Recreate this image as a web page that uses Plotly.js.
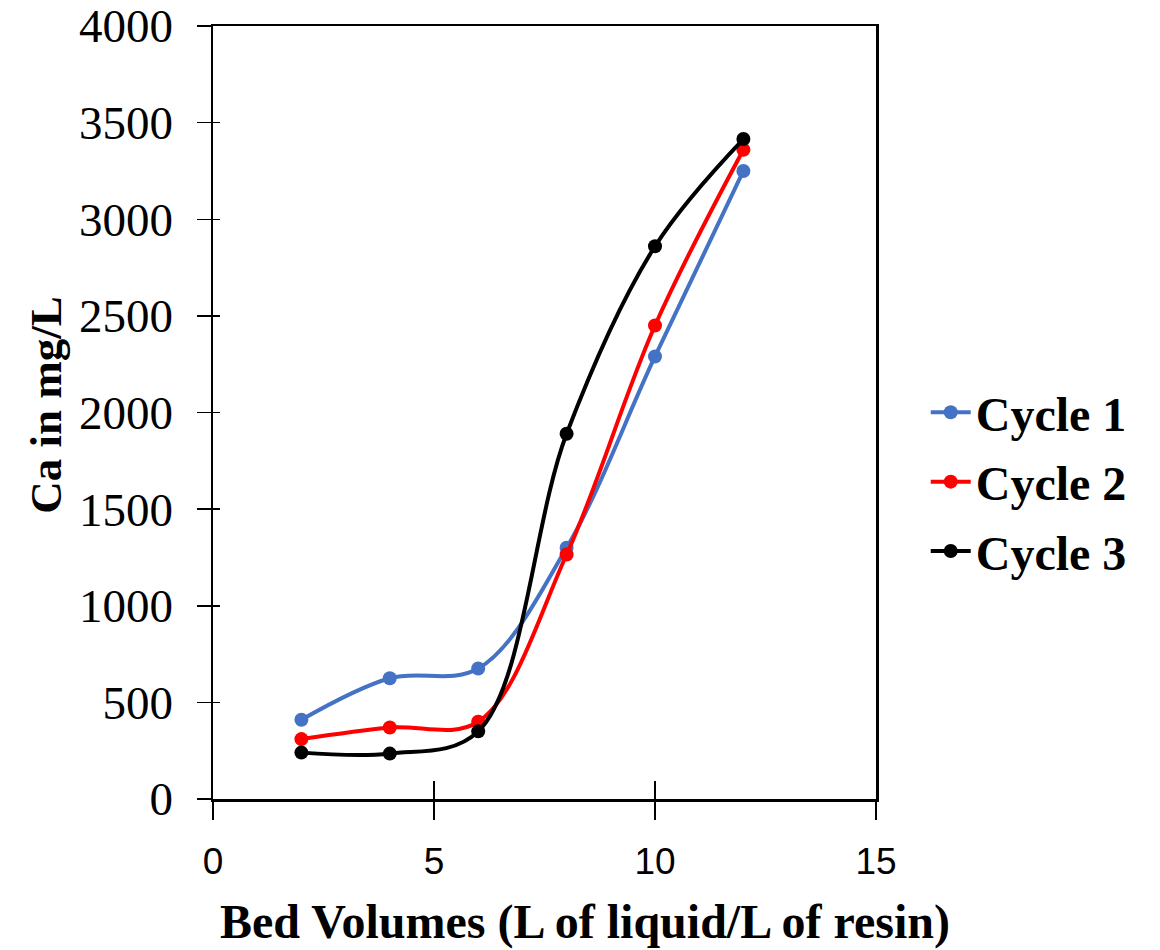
<!DOCTYPE html>
<html>
<head>
<meta charset="utf-8">
<script src="https://cdn.plot.ly/plotly-3.0.1.min.js"></script>
<style>html,body{margin:0;padding:0;background:#fff;}#chart{width:1160px;height:950px;}</style>
</head>
<body>
<div id="chart"></div>
<script>
const bedVolumes = [2, 4, 6, 8, 10, 12];
const cycle1 = [410, 625, 675, 1300, 2290, 3250];
const cycle2 = [310, 370, 400, 1265, 2450, 3360];
const cycle3 = [240, 235, 350, 1890, 2860, 3415];
const seriesNames = ['Cycle 1', 'Cycle 2', 'Cycle 3'];
const seriesColors = ['#4472C4', '#FF0000', '#000000'];
const xTitle = 'Bed Volumes (L of liquid/L of resin)';
const yTitle = 'Ca in mg/L';

const allSeries = [cycle1, cycle2, cycle3];
const traces = allSeries.map((ys, i) => ({
  x: bedVolumes, y: ys, name: seriesNames[i], type: 'scatter', mode: 'lines+markers',
  legendgroup: 'g' + i,
  line: {color: seriesColors[i], width: 4, shape: 'spline', smoothing: 1},
  marker: {color: seriesColors[i], size: 14}
}));
// invisible companion trace so the overlay axes (inner tick halves) are drawn
traces.push({x: bedVolumes, y: cycle1, xaxis: 'x2', yaxis: 'y2', type: 'scatter', mode: 'markers',
  marker: {opacity: 0}, showlegend: false, hoverinfo: 'skip'});

const serif = 'Liberation Serif, Times New Roman, serif';
const layout = {
  width: 1160, height: 950,
  margin: {l: 213, r: 284, t: 26, b: 151},
  paper_bgcolor: '#fff', plot_bgcolor: '#fff',
  showlegend: true,
  legend: {x: 1.075, y: 0.41, xanchor: 'left', yanchor: 'middle',
    font: {family: serif, size: 48, color: '#000', weight: 'bold'},
    tracegroupgap: 4, itemwidth: 40},
  xaxis: {range: [0, 15], dtick: 5, tick0: 0, showgrid: false, zeroline: false,
    showline: true, linecolor: '#000', linewidth: 2.5, mirror: true,
    ticks: 'outside', ticklen: 18, tickwidth: 1.5, tickcolor: '#000',
    tickfont: {family: 'Liberation Sans, Arial, sans-serif', size: 37, color: '#000'},
    ticklabelstandoff: 10},
  xaxis2: {range: [0, 15], dtick: 5, tick0: 0, overlaying: 'x', anchor: 'y', showgrid: false,
    zeroline: false, showline: false, ticks: 'inside', ticklen: 18, tickwidth: 1.5,
    tickcolor: '#000', showticklabels: false},
  yaxis: {range: [0, 4000], dtick: 500, tick0: 0, showgrid: false, zeroline: false,
    showline: true, linecolor: '#000', linewidth: 2.5, mirror: true,
    ticks: 'outside', ticklen: 14, tickwidth: 1.5, tickcolor: '#000',
    tickfont: {family: serif, size: 47, color: '#000'}, ticklabelstandoff: 14},
  yaxis2: {range: [0, 4000], dtick: 500, tick0: 0, overlaying: 'y', anchor: 'x', showgrid: false,
    zeroline: false, showline: false, ticks: 'inside', ticklen: 7, tickwidth: 1.5,
    tickcolor: '#000', showticklabels: false},
  annotations: [
    {text: xTitle, xref: 'paper', yref: 'paper', x: 0.561, y: -0.159, showarrow: false,
      xanchor: 'center', yanchor: 'middle', font: {family: serif, size: 48, color: '#000', weight: 'bold'}},
    {text: yTitle, xref: 'paper', yref: 'paper', x: -0.252, y: 0.51, showarrow: false, textangle: -90,
      xanchor: 'center', yanchor: 'middle', font: {family: serif, size: 45, color: '#000', weight: 'bold'}}
  ]
};

Plotly.newPlot('chart', traces, layout, {displayModeBar: false, staticPlot: true});
</script>
</body>
</html>
